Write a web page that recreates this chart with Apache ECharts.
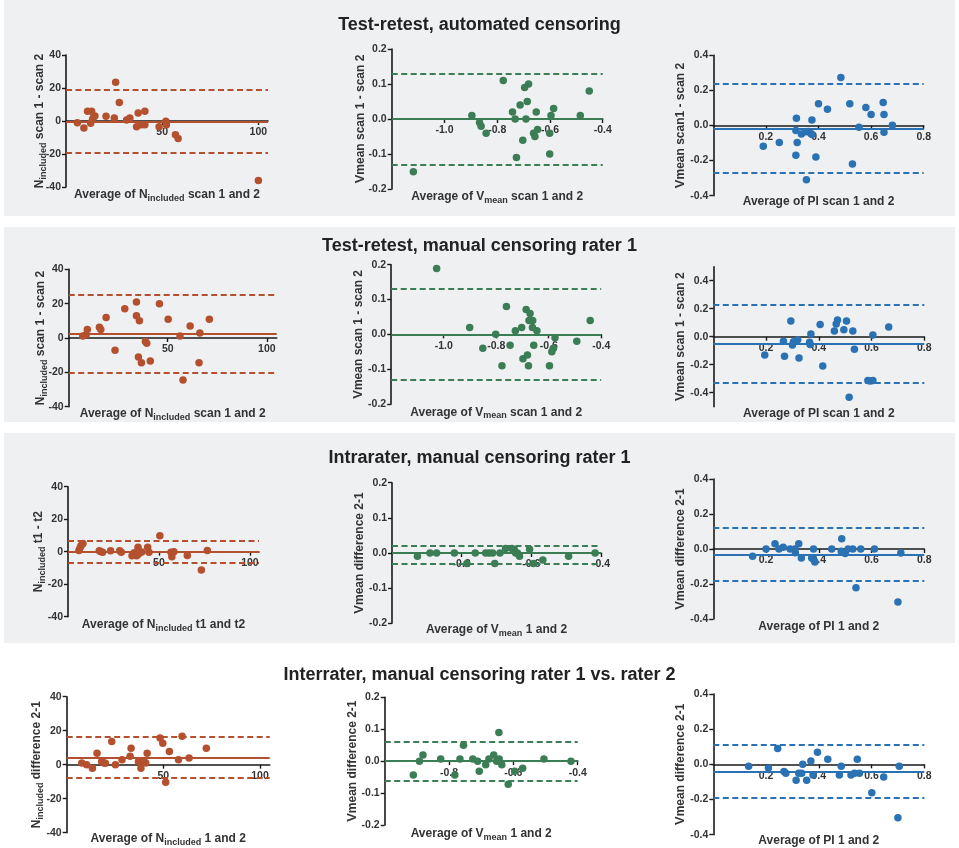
<!DOCTYPE html>
<html><head><meta charset="utf-8">
<script src="https://cdn.jsdelivr.net/npm/echarts@6/dist/echarts.min.js"></script>
<style>html,body{margin:0;padding:0;background:#fff}#c{width:959px;height:848px}</style>
</head><body><div id="c"></div>
<script>
// ---------- DATA ----------
// Row 1: Test-retest, automated censoring
const r1NAvg  = [5.9, 9.3, 11.2, 13.3, 12.8, 13.8, 14.5, 15.0, 20.8, 25.8, 25.1, 27.7, 31.5, 33.2, 36.7, 37.5, 39.3, 41.0, 41.0, 48.4, 51.9, 52.2, 56.9, 58.3, 100.0];
const r1NDiff = [-1, -4.3, 5.9, 5.9, -1.4, 1, 2.7, 3, 2.9, 23.5, 1.8, 11.2, 0.6, 1.8, -3.5, 4.9, -2.2, 5.9, -2.2, -3.5, -0.2, -2.2, -8.4, -10.6, -36];
const r1NLines = [-0.3, 19, -19.5];
const r1VAvg  = [-1.118, -0.896, -0.867, -0.861, -0.842, -0.777, -0.742, -0.732, -0.727, -0.713, -0.703, -0.696, -0.691, -0.686, -0.681, -0.662, -0.657, -0.652, -0.647, -0.601, -0.601, -0.596, -0.586, -0.485, -0.451];
const r1VDiff = [-0.151, 0.01, -0.01, -0.021, -0.041, 0.11, 0.02, 0, -0.11, 0.04, -0.061, 0.09, 0, 0.05, 0.1, -0.041, -0.05, 0.02, -0.03, -0.041, -0.1, 0.01, 0.03, 0.01, 0.08];
const r1VLines = [-0.003, 0.125, -0.131];
const r1PAvg  = [0.19, 0.251, 0.316, 0.314, 0.319, 0.314, 0.335, 0.351, 0.361, 0.37, 0.375, 0.375, 0.354, 0.39, 0.4, 0.434, 0.485, 0.519, 0.529, 0.554, 0.58, 0.6, 0.646, 0.649, 0.649, 0.681];
const r1PDiff = [-0.118, -0.097, 0.042, -0.029, -0.097, -0.17, -0.048, -0.036, -0.034, -0.044, -0.051, 0.032, -0.309, -0.179, 0.124, 0.093, 0.274, 0.124, -0.219, -0.01, 0.103, 0.063, 0.131, 0.063, -0.038, 0.002];
const r1PLines = [-0.017, 0.236, -0.267];
// Row 2: Test-retest, manual censoring rater 1
const r2NAvg  = [7.1, 8.8, 9.4, 15.5, 16.2, 18.9, 23.4, 28.3, 34.2, 34.2, 35.7, 35.2, 36.7, 38.7, 39.4, 41.2, 45.8, 50.2, 56.2, 57.7, 61.3, 66.2, 65.8, 71.0];
const r2NDiff = [1.2, 1.9, 5, 6.2, 5, 12, -7.2, 17.1, 21, 13, 10.1, -11.1, -14.4, -2.1, -3.1, -13.4, 20, 10.9, 1.2, -24.5, 7, 2.9, -14.4, 10.9];
const r2NLines = [2.5, 24.9, -20.2];
const r2VAvg  = [-1.027, -0.901, -0.851, -0.802, -0.778, -0.761, -0.747, -0.727, -0.703, -0.698, -0.686, -0.681, -0.677, -0.671, -0.675, -0.661, -0.662, -0.657, -0.645, -0.597, -0.588, -0.582, -0.576, -0.493, -0.442];
const r2VDiff = [0.189, 0.02, -0.04, 0, -0.09, 0.08, -0.031, 0.01, 0.02, -0.07, 0.071, -0.059, -0.09, 0.06, 0.04, 0.04, 0.02, -0.031, 0.01, -0.09, -0.05, -0.04, -0.01, -0.02, 0.04];
const r2VLines = [-0.002, 0.125, -0.126];
const r2PAvg  = [0.195, 0.266, 0.27, 0.294, 0.3, 0.304, 0.32, 0.325, 0.365, 0.367, 0.37, 0.405, 0.415, 0.459, 0.466, 0.471, 0.495, 0.505, 0.529, 0.535, 0.515, 0.586, 0.595, 0.605, 0.605, 0.665];
const r2PDiff = [-0.131, -0.033, -0.14, 0.112, -0.06, -0.036, -0.021, -0.152, -0.04, -0.055, 0.019, 0.088, -0.21, 0.04, 0.09, 0.119, 0.05, 0.112, 0.04, -0.09, -0.433, -0.312, -0.316, -0.312, 0.012, 0.069];
const r2PLines = [-0.05, 0.233, -0.331];
// Row 3: Intrarater, manual censoring rater 1
const r3NAvg  = [6, 6.6, 7.1, 7.9, 8.2, 17.2, 17.9, 19, 23.4, 28.4, 29.3, 35.2, 36.4, 37.7, 38.5, 38.8, 40.5, 43.8, 44.5, 50.5, 56.6, 57.1, 58.2, 65.6, 73.3, 76.6];
const r3NDiff = [0.8, 2.3, 3.7, 4.7, 5.1, 0.6, 0.2, -0.4, 0.6, 0.6, -0.4, -2.5, -0.6, -2.5, 2.7, -1.4, -0.2, 2.7, -0.4, 9.8, -0.4, -3.1, 0, -2.3, -11.3, 0.8];
const r3NLines = [0.0, 7, -7];
const r3VAvg  = [-0.927, -0.891, -0.872, -0.821, -0.785, -0.761, -0.731, -0.721, -0.711, -0.705, -0.69, -0.674, -0.656, -0.649, -0.645, -0.64, -0.634, -0.605, -0.594, -0.567, -0.493, -0.417];
const r3VDiff = [-0.0095, 0, 0, 0, -0.03, 0, 0, 0, 0, -0.03, 0, 0.013, 0.013, 0.01, 0, 0, -0.0095, 0.011, -0.03, -0.02, -0.0095, 0];
const r3VLines = [-0.003, 0.021, -0.028];
const r3PAvg  = [0.149, 0.2, 0.234, 0.249, 0.265, 0.291, 0.309, 0.311, 0.324, 0.334, 0.373, 0.38, 0.381, 0.385, 0.449, 0.487, 0.485, 0.5, 0.511, 0.529, 0.541, 0.559, 0.611, 0.7, 0.711];
const r3PDiff = [-0.042, 0, 0.03, 0, 0.0095, 0, 0, -0.021, 0.03, -0.051, -0.051, 0, -0.061, -0.074, 0, 0.059, -0.013, -0.025, 0, 0, -0.221, 0, 0, -0.303, -0.023];
const r3PLines = [-0.03, 0.122, -0.179];
// Row 4: Interrater, manual censoring rater 1 vs. rater 2
const r4NAvg  = [7.8, 10.3, 13.3, 15.7, 18.1, 19.3, 20, 23.3, 25.2, 28.6, 32.8, 33.3, 37.1, 38.4, 40, 40.9, 41.6, 48.3, 49.7, 51.2, 53.1, 57.8, 59.7, 63.3, 72.2];
const r4NDiff = [1, 0, -2.1, 6.8, 1.9, 1, 0.8, 13.6, 0, 2.9, 4.9, 9.7, 1.9, -2.1, 1.9, 1, 6.8, 15.7, 12.6, -10.3, 7.8, 2.9, 16.7, 3.9, 9.7];
const r4NLines = [4.3, 16.5, -7.8];
const r4VAvg  = [-0.911, -0.892, -0.881, -0.826, -0.782, -0.766, -0.755, -0.726, -0.711, -0.706, -0.686, -0.676, -0.661, -0.652, -0.645, -0.644, -0.636, -0.616, -0.596, -0.571, -0.505, -0.421];
const r4VDiff = [-0.043, 0, 0.019, 0.007, -0.043, 0.007, 0.05, 0.007, 0, -0.032, -0.011, 0.007, 0.019, 0, 0.09, 0.007, -0.011, -0.072, -0.032, -0.022, 0.007, 0];
const r4VLines = [0.0, 0.058, -0.06];
const r4PAvg  = [0.134, 0.209, 0.244, 0.268, 0.275, 0.314, 0.324, 0.335, 0.339, 0.354, 0.37, 0.378, 0.395, 0.434, 0.478, 0.485, 0.522, 0.535, 0.546, 0.554, 0.601, 0.646, 0.7, 0.705];
const r4PDiff = [-0.011, -0.021, 0.09, -0.04, -0.051, -0.091, -0.051, -0.051, 0, -0.091, 0.019, -0.061, 0.069, 0.029, -0.061, -0.011, -0.061, -0.051, 0.029, -0.051, -0.162, -0.072, -0.303, -0.011];
const r4PLines = [-0.042, 0.107, -0.194];

// Titles and tick labels
const rowTitles = ['Test-retest, automated censoring', 'Test-retest, manual censoring rater 1', 'Intrarater, manual censoring rater 1', 'Interrater, manual censoring rater 1 vs. rater 2'];
const nTicksX = [50, 100];
const nTicksY = [-40, -20, 0, 20, 40];
const vTicksXWide = [-1.0, -0.8, -0.6, -0.4];
const vTicksXNarrow = [-0.8, -0.6, -0.4];
const vTicksY = [-0.2, -0.1, 0, 0.1, 0.2];
const pTicksX = [0.2, 0.4, 0.6, 0.8];
const pTicksY = [-0.4, -0.2, 0, 0.2, 0.4];

// ---------- STYLE / LAYOUT ----------
const RED = '#b5502f', GREEN = '#3b7d55', BLUE = '#2a72b3';
const FONT = 'Liberation Sans, Arial, sans-serif';
const rich = {
  t: {fontSize: 12, fontWeight: 'bold', color: '#333', fontFamily: FONT},
  v: {fontSize: 13, fontWeight: 'bold', color: '#333', fontFamily: FONT},
  s: {fontSize: 9, fontWeight: 'bold', color: '#333', fontFamily: FONT, padding: [7, 0, 0, 0]}
};
const nInc = '{t|N}{s|included}';
const vMeanSub = '{t|V}{s|mean}';
const vMean = '{v|V}{t|mean}';

const panels = [
  {g:[66,55,202,132], x:[0,105], y:[-40,40], xt:nTicksX, yt:nTicksY, c:RED, xa:r1NAvg, yd:r1NDiff, ln:r1NLines, xn:'{t|Average of }'+nInc+'{t| scan 1 and 2}', yn:nInc+'{t| scan 1 - scan 2}', xg:66, yg:18},
  {g:[391.7,49,211,140], x:[-1.2,-0.4], y:[-0.2,0.2], xt:vTicksXWide, yt:vTicksY, c:GREEN, xa:r1VAvg, yd:r1VDiff, ln:r1VLines, xn:'{t|Average of }'+vMeanSub+'{t| scan 1 and 2}', yn:vMean+'{t| scan 1 - scan 2}', xg:70, yg:25},
  {g:[713.3,55.3,210.4,140.4], x:[0,0.8], y:[-0.4,0.4], xt:pTicksX, yt:pTicksY, c:BLUE, xa:r1PAvg, yd:r1PDiff, ln:r1PLines, xn:'{t|Average of PI scan 1 and 2}', yn:vMean+'{t| scan1 - scan 2}', xg:70, yg:26},
  {g:[68.7,269.3,208,137.4], x:[0,105], y:[-40,40], xt:nTicksX, yt:nTicksY, c:RED, xa:r2NAvg, yd:r2NDiff, ln:r2NLines, xn:'{t|Average of }'+nInc+'{t| scan 1 and 2}', yn:nInc+'{t| scan 1 - scan 2}', xg:68, yg:20},
  {g:[391.2,264.7,210,139.3], x:[-1.2,-0.4], y:[-0.2,0.2], xt:vTicksXWide, yt:vTicksY, c:GREEN, xa:r2VAvg, yd:r2VDiff, ln:r2VLines, xn:'{t|Average of }'+vMeanSub+'{t| scan 1 and 2}', yn:vMean+'{t| scan 1 - scan 2}', xg:70, yg:26},
  {g:[713.3,266.7,211,140], x:[0,0.8], y:[-0.5,0.5], xt:pTicksX, yt:pTicksY, c:BLUE, xa:r2PAvg, yd:r2PDiff, ln:r2PLines, xn:'{t|Average of PI scan 1 and 2}', yn:vMean+'{t| scan 1 - scan 2}', xg:71, yg:26},
  {g:[68,486.7,191,130], x:[0,105], y:[-40,40], xt:nTicksX, yt:nTicksY, c:RED, xa:r3NAvg, yd:r3NDiff, ln:r3NLines, xn:'{t|Average of }'+nInc+'{t| t1 and t2}', yn:nInc+'{t| t1 - t2}', xg:65, yg:21},
  {g:[392,482.7,209,140.6], x:[-1.0,-0.4], y:[-0.2,0.2], xt:vTicksXNarrow, yt:vTicksY, c:GREEN, xa:r3VAvg, yd:r3VDiff, ln:r3VLines, xn:'{t|Average of }'+vMeanSub+'{t| 1 and 2}', yn:vMean+'{t| difference 2-1}', xg:69, yg:26},
  {g:[713.3,479,211,140], x:[0,0.8], y:[-0.4,0.4], xt:pTicksX, yt:pTicksY, c:BLUE, xa:r3PAvg, yd:r3PDiff, ln:r3PLines, xn:'{t|Average of PI 1 and 2}', yn:vMean+'{t| difference 2-1}', xg:72, yg:26},
  {g:[66.7,696.7,203,136], x:[0,105], y:[-40,40], xt:nTicksX, yt:nTicksY, c:RED, xa:r4NAvg, yd:r4NDiff, ln:r4NLines, xn:'{t|Average of }'+nInc+'{t| 1 and 2}', yn:nInc+'{t| difference 2-1}', xg:66, yg:22},
  {g:[384.7,697.3,193,127.7], x:[-1.0,-0.4], y:[-0.2,0.2], xt:vTicksXNarrow, yt:vTicksY, c:GREEN, xa:r4VAvg, yd:r4VDiff, ln:r4VLines, xn:'{t|Average of }'+vMeanSub+'{t| 1 and 2}', yn:vMean+'{t| difference 2-1}', xg:65, yg:26},
  {g:[713.3,694,211,140.7], x:[0,0.8], y:[-0.4,0.4], xt:pTicksX, yt:pTicksY, c:BLUE, xa:r4PAvg, yd:r4PDiff, ln:r4PLines, xn:'{t|Average of PI 1 and 2}', yn:vMean+'{t| difference 2-1}', xg:70, yg:26}
];

const grid = [], xAxis = [], yAxis = [], series = [];
panels.forEach((p, i) => {
  grid.push({left: p.g[0], top: p.g[1], width: p.g[2], height: p.g[3], containLabel: false, outerBoundsMode: 'none'});
  const isN = p.y[1] === 40;
  const labelFmt = v => isN ? String(Math.round(v)) : (Math.abs(v) < 1e-9 ? '0.0' : v.toFixed(1));
  // x axis sits on y = 0: shift it up from the grid bottom by the pixel height of (0 - yMin)
  const zeroOffset = -p.g[3] * (0 - p.y[0]) / (p.y[1] - p.y[0]);
  xAxis.push({
    type: 'value', gridIndex: i, min: p.x[0], max: p.x[1], z: 3,
    position: 'bottom', offset: zeroOffset,
    splitLine: {show: false},
    axisLine: {onZero: false, lineStyle: {color: '#1a1a1a', width: 1.6}},
    axisTick: {customValues: p.xt, length: 4, lineStyle: {color: '#1a1a1a', width: 1.4}},
    axisLabel: {customValues: p.xt, formatter: labelFmt, color: '#333', fontWeight: 'bold', fontSize: 10.5, fontFamily: FONT, margin: 6},
    name: p.xn, nameLocation: 'middle', nameGap: p.xg, nameMoveOverlap: false, nameTextStyle: {rich: rich}
  });
  yAxis.push({
    type: 'value', gridIndex: i, min: p.y[0], max: p.y[1], z: 3,
    splitLine: {show: false},
    axisLine: {onZero: false, lineStyle: {color: '#1a1a1a', width: 1.6}},
    axisTick: {customValues: p.yt, length: 4, lineStyle: {color: '#1a1a1a', width: 1.4}},
    axisLabel: {customValues: p.yt, formatter: labelFmt, color: '#333', fontWeight: 'bold', fontSize: 10.5, fontFamily: FONT, margin: 5},
    name: p.yn, nameLocation: 'middle', nameRotate: 90, nameGap: p.yg, nameMoveOverlap: false, nameTextStyle: {rich: rich}
  });
  series.push({
    type: 'line', xAxisIndex: i, yAxisIndex: i, data: [], z: 2, silent: true, showSymbol: false,
    markLine: {
      silent: true, symbol: 'none', label: {show: false}, animation: false,
      data: [
        {yAxis: p.ln[0], lineStyle: {color: p.c, width: 2, type: 'solid'}},
        {yAxis: p.ln[1], lineStyle: {color: p.c, width: 1.8, type: [6, 3.5]}},
        {yAxis: p.ln[2], lineStyle: {color: p.c, width: 1.8, type: [6, 3.5]}}
      ]
    }
  });
  series.push({
    type: 'scatter', xAxisIndex: i, yAxisIndex: i, z: 4, symbolSize: 7.5,
    itemStyle: {color: p.c, opacity: 1},
    data: p.xa.map((v, k) => [v, p.yd[k]])
  });
});

const titleTops = [22, 243, 455, 672];
const title = rowTitles.map((t, i) => ({
  text: t, left: 'center', top: titleTops[i] - 11,
  textStyle: {fontSize: 18, fontWeight: 'bold', color: '#222', fontFamily: FONT}
}));

const bands = [[4, 0, 951, 216], [4, 227, 951, 195], [4, 433, 951, 210]];
const graphic = bands.map(b => ({
  type: 'rect', z: -100, silent: true,
  shape: {x: b[0], y: b[1], width: b[2], height: b[3]},
  style: {fill: '#eff0f2'}
}));

const chart = echarts.init(document.getElementById('c'), null, {renderer: 'canvas'});
chart.setOption({
  animation: false, backgroundColor: '#ffffff',
  title, grid, xAxis, yAxis, series, graphic
});
</script></body></html>
